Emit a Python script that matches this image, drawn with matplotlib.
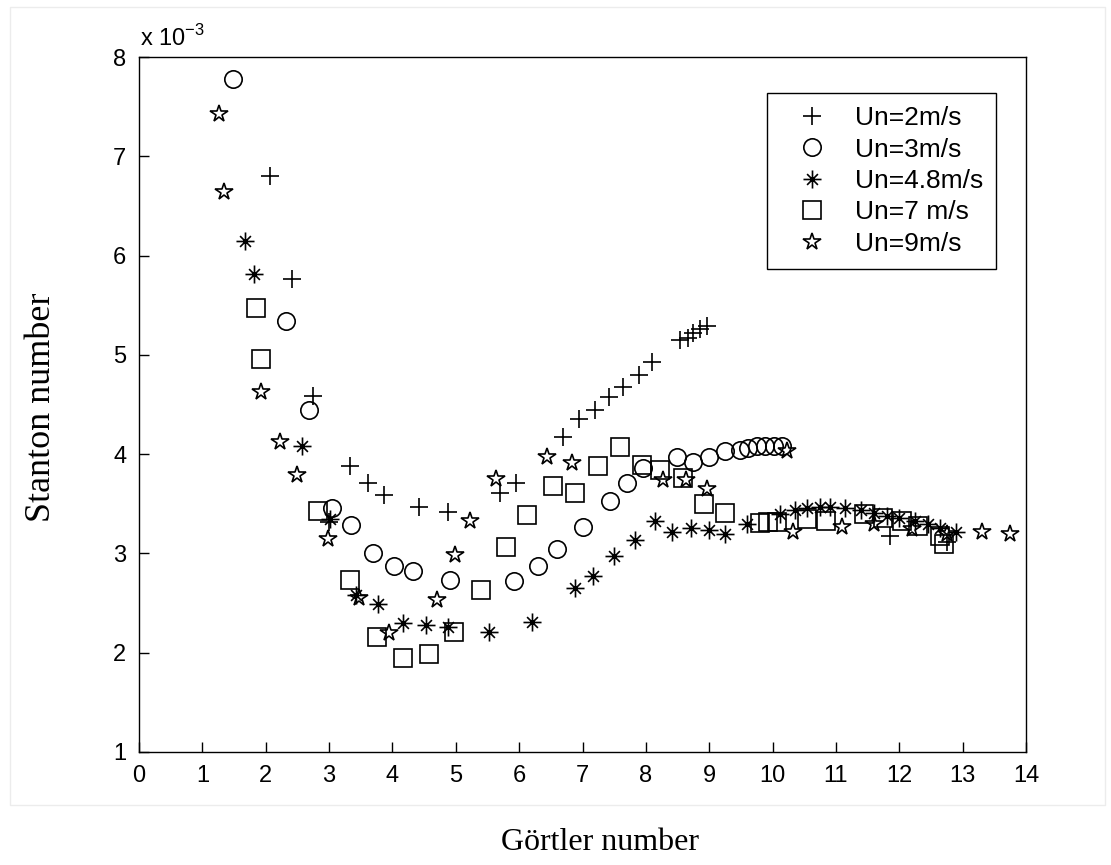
import numpy as np
import matplotlib
matplotlib.use("Agg")
import matplotlib.pyplot as plt
from matplotlib.path import Path
from matplotlib.patches import Rectangle

# Stanton number (x 10^-3) against Gortler number, five free stream speeds
labels = ["Un=2m/s", "Un=3m/s", "Un=4.8m/s", "Un=7 m/s", "Un=9m/s"]

g_2 = [2.06, 2.42, 2.74, 3.00, 3.33, 3.62, 3.87, 4.42, 4.88, 5.69, 5.95, 6.69, 6.95,
       7.19, 7.42, 7.64, 7.89, 8.09, 8.54, 8.67, 8.75, 8.86, 8.96, 11.85, 12.75]
st_2 = [6.80, 5.76, 4.59, 3.32, 3.88, 3.71, 3.59, 3.47, 3.42, 3.61, 3.71, 4.17, 4.35,
        4.44, 4.58, 4.68, 4.80, 4.93, 5.15, 5.17, 5.22, 5.26, 5.29, 3.18, 3.12]

g_3 = [1.48, 2.32, 2.68, 3.04, 3.35, 3.69, 4.03, 4.33, 4.91, 5.92, 6.30, 6.59, 7.01,
       7.43, 7.70, 7.96, 8.49, 8.75, 8.99, 9.25, 9.49, 9.62, 9.75, 9.88, 10.02, 10.15]
st_3 = [7.78, 5.34, 4.44, 3.46, 3.29, 3.00, 2.87, 2.82, 2.73, 2.72, 2.87, 3.04, 3.27,
        3.53, 3.71, 3.86, 3.97, 3.92, 3.97, 4.03, 4.04, 4.06, 4.08, 4.08, 4.08, 4.08]

g_48 = [1.67, 1.81, 2.58, 3.01, 3.42, 3.78, 4.17, 4.53, 4.87, 5.53, 6.20, 6.88, 7.17,
        7.50, 7.83, 8.15, 8.41, 8.72, 8.99, 9.25, 9.59, 10.12, 10.36, 10.55, 10.75,
        10.90, 11.15, 11.40, 11.60, 11.80, 12.00, 12.25, 12.45, 12.65, 12.90]
st_48 = [6.15, 5.81, 4.08, 3.35, 2.58, 2.49, 2.30, 2.28, 2.26, 2.21, 2.31, 2.65, 2.77,
         2.97, 3.14, 3.33, 3.22, 3.26, 3.24, 3.20, 3.30, 3.40, 3.44, 3.46, 3.47,
         3.47, 3.46, 3.44, 3.41, 3.38, 3.36, 3.33, 3.30, 3.26, 3.22]

g_7 = [1.84, 1.93, 2.83, 3.33, 3.75, 4.17, 4.58, 4.97, 5.40, 5.79, 6.13, 6.53, 6.88,
       7.24, 7.59, 7.94, 8.22, 8.59, 8.91, 9.25, 9.80, 9.93, 10.07, 10.55, 10.85,
       11.45, 11.75, 12.05, 12.30, 12.65, 12.70]
st_7 = [5.47, 4.96, 3.43, 2.73, 2.16, 1.95, 1.99, 2.21, 2.63, 3.06, 3.39, 3.68, 3.61,
        3.88, 4.07, 3.89, 3.84, 3.76, 3.50, 3.41, 3.31, 3.32, 3.32, 3.35, 3.33,
        3.40, 3.36, 3.33, 3.28, 3.18, 3.10]

g_9 = [1.27, 1.34, 1.92, 2.22, 2.50, 2.99, 3.47, 3.95, 4.70, 4.99, 5.22, 5.63, 6.44,
       6.83, 8.27, 8.64, 8.96, 10.23, 10.33, 11.10, 11.60, 12.20, 12.75, 13.30, 13.75]
st_9 = [7.43, 6.64, 4.63, 4.12, 3.79, 3.15, 2.55, 2.20, 2.53, 2.98, 3.33, 3.75, 3.97,
        3.91, 3.74, 3.74, 3.65, 4.03, 3.22, 3.27, 3.30, 3.25, 3.20, 3.22, 3.20]

xticks = np.arange(0, 15, 1)
yticks = np.arange(1, 9, 1)

# matlab style asterisk: long + arms, short x arms
_d = 0.6
asterisk = Path(
    [(0, -1), (0, 1), (-1, 0), (1, 0), (-_d, -_d), (_d, _d), (-_d, _d), (_d, -_d)],
    [Path.MOVETO, Path.LINETO] * 4,
)

tick_font = ["Liberation Sans Narrow", "Liberation Sans", "DejaVu Sans"]
label_font = ["Liberation Serif", "DejaVu Serif"]

fig = plt.figure(figsize=(11.11, 8.65), dpi=100, facecolor="white")
W, H = 1111, 865
ax = fig.add_axes([139 / W, 1 - 752 / H, 887 / W, 695 / H])

series = [
    (g_2, st_2, "+", 13, {}),
    (g_3, st_3, "o", 12.5, {"markerfacecolor": "none"}),
    (g_48, st_48, asterisk, 13, {}),
    (g_7, st_7, "s", 13, {"markerfacecolor": "none"}),
    (g_9, st_9, "*", 13, {"markerfacecolor": "none"}),
]
for (gx, sy, mk, ms, kw), lab in zip(series, labels):
    ax.plot(gx, sy, linestyle="none", marker=mk, markersize=ms, color="black",
            markeredgewidth=1.2, label=lab, **kw)

ax.set_xlim(0, 14)
ax.set_ylim(1, 8)
ax.set_xticks(xticks)
ax.set_yticks(yticks)
ax.tick_params(direction="in", length=7, width=1, top=False, right=False,
               labelsize=17, pad=9)
for t in ax.get_xticklabels() + ax.get_yticklabels():
    t.set_family(tick_font)
for s in ax.spines.values():
    s.set_linewidth(1.0)

fig.text(140 / W, 1 - 46 / H, r"x 10$^{\mathregular{-3}}$", fontsize=17,
         family=tick_font, ha="left", va="baseline")

leg = ax.legend(loc="upper right", bbox_to_anchor=(996 / W, 1 - 93 / H),
                bbox_transform=fig.transFigure, fancybox=False, framealpha=1,
                edgecolor="black", prop={"family": tick_font, "size": 19},
                handletextpad=0.45, labelspacing=0.28, borderpad=0.5,
                handlelength=2.35, borderaxespad=0)
leg.get_frame().set_linewidth(1.0)

# faint frame of the original figure window
fig.patches.append(Rectangle((10 / W, 1 - 805 / H), 1095 / W, 798 / H,
                             transform=fig.transFigure, fill=False,
                             edgecolor="#ececec", linewidth=1.0))

fig.text(600 / W, 1 - 842 / H, "Görtler number", fontsize=23, family=label_font,
         ha="center", va="center")
fig.text(42 / W, 1 - 407 / H, "Stanton number", fontsize=26, family=label_font,
         ha="center", va="center", rotation=90)

fig.savefig("out.png", dpi=100, facecolor="white")
